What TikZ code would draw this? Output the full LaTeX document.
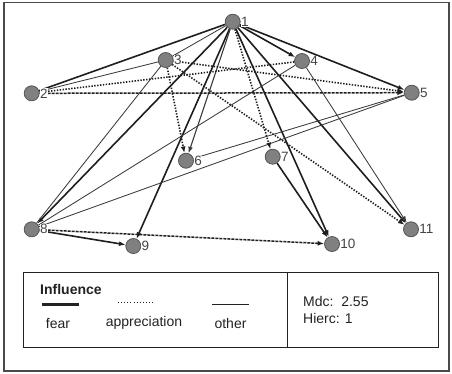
\documentclass[tikz,border=0pt]{standalone}
\usepackage{fontspec}
\setmainfont{Liberation Sans}
\usetikzlibrary{arrows.meta,backgrounds}
\definecolor{nodefill}{HTML}{808080}
\definecolor{nodeline}{HTML}{555555}
\definecolor{edgedark}{HTML}{1E1E1E}
\definecolor{edgethin}{HTML}{3A3A3A}
\definecolor{labelcol}{HTML}{444444}
\definecolor{framecol}{HTML}{4A4A4A}
\definecolor{textcol}{HTML}{222222}
\tikzset{
  actor/.style={circle, fill=nodefill, draw=nodeline, line width=0.8pt, minimum size=15pt, inner sep=0pt},
  nlabel/.style={font=\fontsize{13.5}{14}\selectfont, text=labelcol, inner sep=0.3pt, fill=white},
  fear/.style={draw=edgedark, line width=1.6pt},
  other/.style={draw=edgethin, line width=0.85pt},
  appr/.style={draw=edgedark, line width=1.6pt, dash pattern=on 1.4pt off 1.5pt},
  apprd/.style={draw=edgedark, line width=1.5pt, dash pattern=on 3pt off 1pt},
  tip/.style={-{Latex[length=6.5pt,width=5pt]}},
  legtext/.style={font=\fontsize{14}{16}\selectfont, text=textcol, inner sep=0pt},
}
\begin{document}
\begin{tikzpicture}[x=1pt,y=-1pt]
\useasboundingbox (0,0) rectangle (452,373);
% frame
\draw[framecol, line width=1.2pt] (4,2.5) rectangle (449,371);
% nodes
\node[actor, label={[nlabel,label distance=0pt]right:1}]  (n1)  at (232.7,21.7) {};
\node[actor, label={[nlabel,label distance=0pt]right:2}]  (n2)  at (31.7,93.3) {};
\node[actor, label={[nlabel,label distance=0pt]right:3}]  (n3)  at (165.7,60) {};
\node[actor, label={[nlabel,label distance=0pt]right:4}]  (n4)  at (302,61) {};
\node[actor, label={[nlabel,label distance=0pt]right:5}]  (n5)  at (411.7,92.7) {};
\node[actor, label={[nlabel,label distance=0pt]right:6}]  (n6)  at (186,160.7) {};
\node[actor, label={[nlabel,label distance=0pt]right:7}]  (n7)  at (272.7,156.7) {};
\node[actor, label={[nlabel,label distance=0pt]right:8}]  (n8)  at (31.7,229.3) {};
\node[actor, label={[nlabel,label distance=0pt]right:9}]  (n9)  at (133.3,246) {};
\node[actor, label={[nlabel,label distance=0pt]right:10}] (n10) at (332,244) {};
\node[actor, label={[nlabel,label distance=0pt]right:11}] (n11) at (411,229.3) {};
\begin{pgfonlayer}{background}
% fear
\draw[fear] (n1) -- (n2);
\draw[fear,tip] (n1) -- (n4);
\draw[fear,tip] (n1) -- (n5);
\draw[fear,tip] (n1) -- (n8);
\draw[fear,tip] (n1) -- (n9);
\draw[fear,tip] (n1) -- (n10);
\draw[fear,tip] (n1) -- (n11);
\draw[fear,tip] (n7) -- (n10);
\draw[fear,tip] (n8) -- (n9);
% other
\draw[other,line width=1.1pt,tip] (n1) -- (n6);
\draw[other] (n1) -- (n3);
\draw[other] (n3) -- (n2);
\draw[other] (n3) -- (n8);
\draw[other] (n4) -- (n8);
\draw[other] (n5) -- (n8);
\draw[other] (n5) -- (n6);
\draw[other,tip] (n4) -- (n11);
% appreciation
\draw[apprd,tip] (n2) -- (n5);
\draw[appr] (n2) -- (n4);
\draw[appr,tip] (n3) -- (n5);
\draw[appr,tip] (n3) -- (n6);
\draw[appr,tip] (n3) -- (n11);
\draw[appr,tip] (n1) -- (n7);
\draw[apprd,tip] (n8) -- (n10);
\end{pgfonlayer}
% legend
\draw[textcol, line width=1pt] (23,272) rectangle (438,347);
\draw[textcol, line width=1pt] (287,272) -- (287,347);
\node[legtext, anchor=west, font=\bfseries\fontsize{14}{16}\selectfont] (leg) at (40,289) {Influence};
\draw[textcol, line width=0.9pt, dash pattern=on 0.9pt off 2.2pt] (118,302) -- (154,302);
\draw[textcol, line width=2.2pt] (42,304.5) -- (79,304.5);
\draw[textcol, line width=1pt] (212,304) -- (249,304);
\node[legtext] (lfear) at (58,323) {fear};
\node[legtext] (lappr) at (144,323) {appreciation};
\node[legtext] (loth) at (230.5,323) {other};
\node[legtext, anchor=west] (mdc) at (303,301) {Mdc:\ \ 2.55};
\node[legtext, anchor=west] (hier) at (303,318) {Hierc: 1};
\end{tikzpicture}
\end{document}
